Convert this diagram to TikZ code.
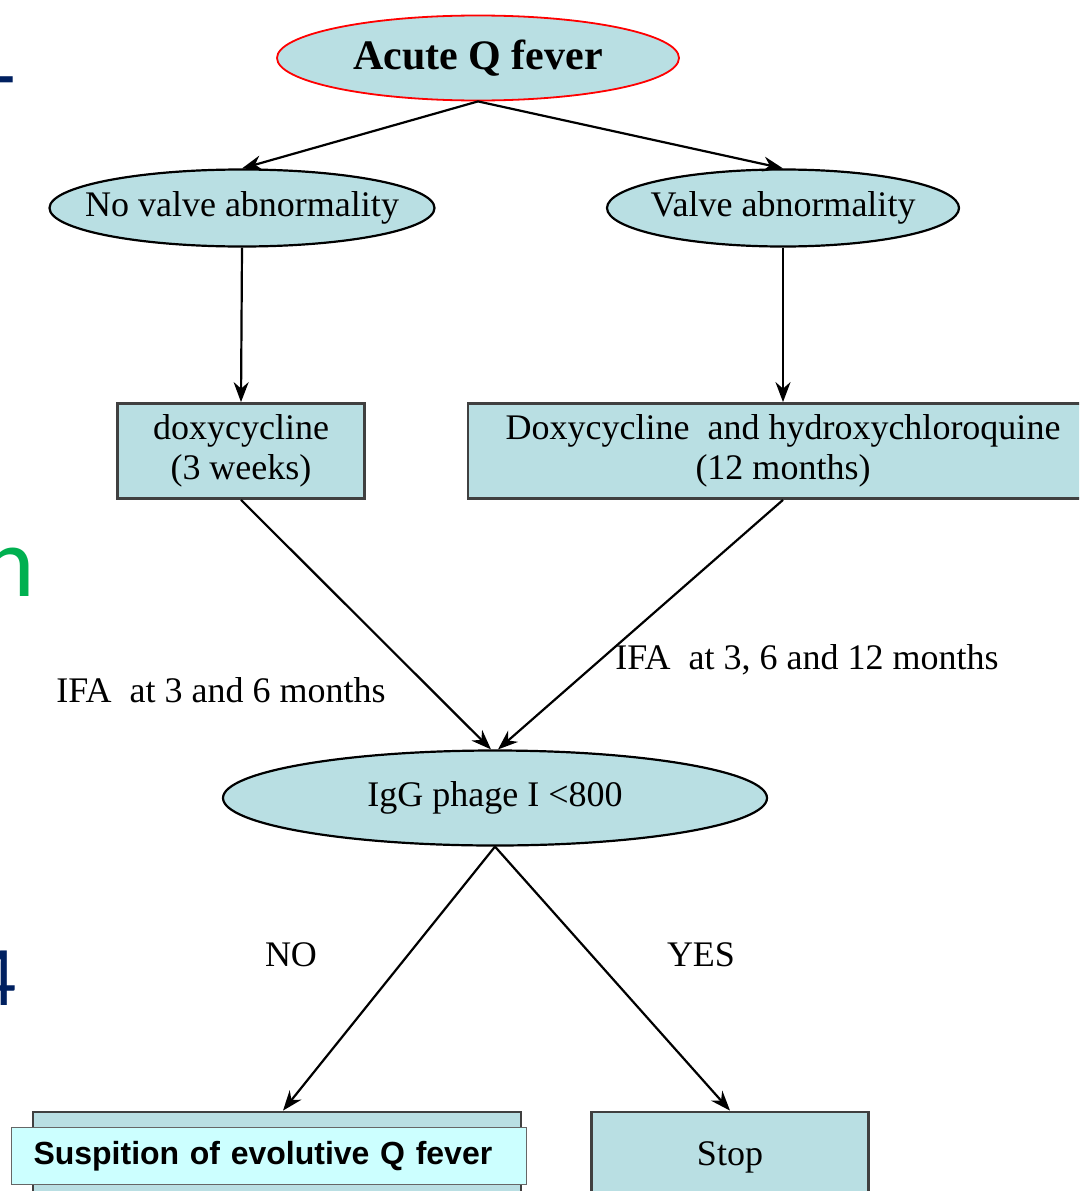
\documentclass[tikz,border=0pt]{standalone}
\usepackage{fontspec}
\setmainfont{Liberation Serif}
\newfontfamily\overlayfont{Liberation Sans}
\newfontfamily\slidefont{Carlito}
\usetikzlibrary{shapes.geometric, arrows.meta}
\definecolor{qfeverfill}{RGB}{185, 223, 227}
\definecolor{qfeverlabel}{RGB}{204, 255, 255}
\definecolor{slideblue}{RGB}{0, 32, 96}
\definecolor{slidegreen}{RGB}{0, 176, 80}
\tikzstyle{startnode} = [ellipse, minimum width=402pt, minimum height=85pt, inner sep=0pt, draw=red, line width=1.8pt, fill=qfeverfill, font=\fontsize{42}{48}\selectfont\bfseries]
\tikzstyle{testnode} = [ellipse, inner sep=0pt, draw=black, line width=2.2pt, fill=qfeverfill, font=\fontsize{36}{40}\selectfont]
\tikzstyle{treatnode} = [rectangle, minimum height=95pt, inner sep=0pt, align=center, draw=black!75, line width=2.8pt, fill=qfeverfill, font=\fontsize{36}{40}\selectfont]
\tikzstyle{edgelabel} = [inner sep=0pt, font=\fontsize{36}{40}\selectfont]
\tikzstyle{slidenote} = [inner sep=0pt, anchor=base east]
\tikzstyle{arrow} = [line width=2.2pt, -{Stealth[length=20pt, width=15pt]}]

\begin{document}
\begin{tikzpicture}[x=1pt, y=-1pt]
        \useasboundingbox (0,0) rectangle (1079,1191);
        \clip (0,0) rectangle (1079,1191);

        % Slide text behind the chart
        \node[slidenote, text=slideblue, font=\slidefont\fontsize{84}{84}\selectfont] (dash) at (16,103) {-};
        \node[slidenote, text=slidegreen, font=\slidefont\fontsize{100}{100}\selectfont] (ending) at (35,596) {n};
        \node[slidenote, text=slideblue, font=\slidefont\fontsize{85}{85}\selectfont] (four) at (17,1005) {4};

        % Main components
        \node[startnode] (acute) at (478,58) {Acute Q fever};
        \node[testnode, inner xsep=-21pt, minimum width=385pt, minimum height=77pt] (novalve) at (242,208) {No valve abnormality};
        \node[testnode, inner xsep=-8pt, minimum width=350pt, minimum height=77pt] (valve) at (783,208) {Valve abnormality};

        % Treatments
        \node[treatnode, minimum width=247pt] (doxy) at (241,451) {doxycycline\\(3 weeks)};
        \node[treatnode, minimum width=630pt] (hydroxy) at (783,451) {Doxycycline\ \ and hydroxychloroquine\\(12 months)};

        % Follow-up
        \node[testnode, minimum width=544pt, minimum height=95pt] (igg) at (495,798) {IgG phage I <800};
        \node[treatnode, minimum width=488pt, minimum height=90pt] (evolbox) at (277,1157) {};
        \node[treatnode, minimum width=277pt, minimum height=90pt] (stop) at (730,1157) {Stop};
        \node[rectangle, minimum width=515pt, minimum height=57pt, inner xsep=22pt, text width=471pt, align=left, draw=black!60, line width=1.2pt, fill=qfeverlabel, font=\overlayfont\fontsize{32}{36}\selectfont\bfseries] (evollabel) at (269,1156) {Suspition of evolutive Q fever};

        % Connections
        \draw[arrow] (acute.south) -- (novalve.north);
        \draw[arrow] (acute.south) -- (valve.north);
        \draw[arrow] (novalve.south) -- (doxy.north);
        \draw[arrow] (valve.south) -- (hydroxy.north);
        \draw[arrow] (doxy.south) -- ([xshift=-4pt]igg.north);
        \draw[arrow] (hydroxy.south) -- ([xshift=3pt]igg.north);
        \draw[arrow] (igg.south) -- ([xshift=6pt]evolbox.north);
        \draw[arrow] (igg.south) -- (stop.north);

        % Labels
        \node[edgelabel] (ifashort) at (221,690) {IFA\ \ at 3 and 6 months};
        \node[edgelabel] (ifalong) at (807,660) {IFA\ \ at 3, 6 and 12 months};
        \node[edgelabel] (no) at (291,955) {NO};
        \node[edgelabel] (yes) at (701,955) {YES};
    \end{tikzpicture}
\end{document}
